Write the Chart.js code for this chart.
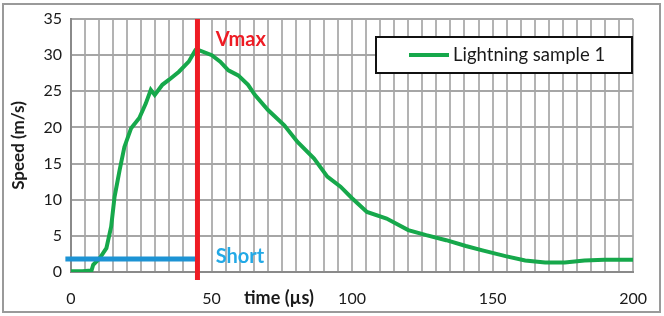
<!DOCTYPE html>
<html><head><meta charset="utf-8">
<script src="https://cdn.jsdelivr.net/npm/chart.js@4"></script>
<style>html,body{margin:0;padding:0;background:#fff}#wrap{width:664px;height:316px}</style>
</head><body><div id="wrap"><canvas id="c" width="664" height="316"></canvas></div>
<script>
// ---- data ----
const timeUs = [0, 4, 7.3, 7.9, 10.2, 12.6, 14.3, 15.5, 17.3, 19.0, 21.4, 24.3, 26.6, 28.4, 29.8, 32.5, 34.9, 38.4, 41.9, 44.3, 44.8, 45.4, 50.1, 53.1, 56.0, 59.5, 63.0, 65.4, 70.1, 75.9, 80.6, 86.5, 91.2, 95.9, 100, 105.3, 112.3, 120, 126.4, 133.5, 140.5, 146.4, 154.6, 161.6, 168.7, 175.7, 182.7, 189.8, 200];
const speedMs = [0.1, 0.1, 0.2, 1.0, 1.9, 3.3, 6.3, 10.4, 14.1, 17.3, 19.9, 21.3, 23.3, 25.2, 24.5, 25.9, 26.6, 27.7, 29.1, 30.7, 30.9, 30.7, 30.0, 29.1, 27.9, 27.2, 25.9, 24.5, 22.4, 20.3, 18.0, 15.7, 13.2, 11.8, 10.2, 8.3, 7.4, 5.8, 5.1, 4.4, 3.6, 3.0, 2.2, 1.6, 1.3, 1.3, 1.6, 1.7, 1.7];
const vmaxTime = [45, 45];
const vmaxSpeed = [-1.1, 35];
const shortTime = [-2, 44.5];
const shortSpeed = [1.8, 1.8];
const xTickLabels = [0, 50, 100, 150, 200];
const yTickLabels = [0, 5, 10, 15, 20, 25, 30, 35];
const seriesName = 'Lightning sample 1';
const xTitle = 'time (µs)';
const yTitle = 'Speed (m/s)';
const vmaxLabel = 'Vmax';
const shortLabel = 'Short';

const GREEN = '#16a84b', RED = '#ee1c24', BLUE = '#1d93d4', LBLUE = '#22a9e6';
const FONT = 'Lato, "Open Sans", sans-serif';

const pts = (xs, ys) => xs.map((x, i) => ({x, y: ys[i]}));

const deco = {
  id: 'deco',
  beforeDraw(chart) {
    const ctx = chart.ctx;
    ctx.save();
    ctx.fillStyle = '#fff';
    ctx.fillRect(0, 0, chart.width, chart.height);
    ctx.strokeStyle = '#9a9a9a';
    ctx.lineWidth = 2;
    ctx.strokeRect(3, 4, 657, 308);
    ctx.restore();
  },
  afterDraw(chart) {
    const ctx = chart.ctx, xs = chart.scales.x, ys = chart.scales.y;
    ctx.save();
    // x title inside tick row
    ctx.font = 'bold 18px ' + FONT;
    ctx.fillStyle = '#1a1a1a';
    ctx.textAlign = 'center';
    ctx.textBaseline = 'middle';
    ctx.fillText(xTitle, xs.getPixelForValue(74), 298);
    // Vmax label
    ctx.font = 'bold 20px ' + FONT;
    ctx.fillStyle = RED;
    ctx.textAlign = 'left';
    ctx.fillText(vmaxLabel, xs.getPixelForValue(51.5), ys.getPixelForValue(32.2));
    // Short label
    ctx.fillStyle = LBLUE;
    ctx.fillText(shortLabel, xs.getPixelForValue(51.5), ys.getPixelForValue(2.2));
    // legend
    const ds = chart.data.datasets[0];
    ctx.fillStyle = '#fff';
    ctx.fillRect(376, 37, 256, 36);
    ctx.strokeStyle = '#111';
    ctx.lineWidth = 2;
    ctx.strokeRect(376, 37, 256, 36);
    ctx.strokeStyle = ds.borderColor;
    ctx.lineWidth = 4;
    ctx.beginPath(); ctx.moveTo(409, 55); ctx.lineTo(449, 55); ctx.stroke();
    ctx.font = '18.5px ' + FONT;
    ctx.fillStyle = '#1a1a1a';
    ctx.textAlign = 'left';
    ctx.fillText(ds.label, 453, 55);
    ctx.restore();
  }
};

new Chart(document.getElementById('c'), {
  type: 'line',
  data: {
    datasets: [
      {label: seriesName, data: pts(timeUs, speedMs), borderColor: GREEN, borderWidth: 4, pointRadius: 0, tension: 0, order: 3},
      {label: 'short', data: pts(shortTime, shortSpeed), borderColor: BLUE, borderWidth: 5, pointRadius: 0, clip: false, order: 2},
      {label: 'vmax', data: pts(vmaxTime, vmaxSpeed), borderColor: RED, borderWidth: 5, pointRadius: 0, clip: false, order: 1}
    ]
  },
  options: {
    responsive: false,
    animation: false,
    devicePixelRatio: 1,
    layout: {padding: {left: 0, right: 25, top: 19, bottom: 0}},
    plugins: {legend: {display: false}, tooltip: {enabled: false}},
    scales: {
      x: {
        type: 'linear', min: 0, max: 200,
        afterFit(s) { s.height = 44; },
        afterBuildTicks(s) { const t = []; for (let v = 0; v <= 200; v += 5) t.push({value: v}); s.ticks = t; },
        ticks: {autoSkip: false, maxRotation: 0, padding: 17, color: '#1a1a1a', font: {family: FONT, size: 16},
          callback: v => xTickLabels.includes(v) ? String(v) : ''},
        grid: {color: '#b3b3b3', lineWidth: 2, drawTicks: false},
        border: {color: '#8a8a8a', width: 2}
      },
      y: {
        min: 0, max: 35,
        afterFit(s) { s.width = 71; },
        afterBuildTicks(s) { s.ticks = yTickLabels.map(v => ({value: v})); },
        ticks: {padding: 9, color: '#1a1a1a', font: {family: FONT, size: 16}},
        grid: {color: '#a6a6a6', lineWidth: 2, drawTicks: false},
        border: {color: '#8a8a8a', width: 2},
        title: {display: true, text: yTitle, color: '#1a1a1a', font: {family: FONT, size: 17, weight: 'bold'}, padding: {top: 8, bottom: 0}}
      }
    }
  },
  plugins: [deco]
});
</script>
</body></html>
